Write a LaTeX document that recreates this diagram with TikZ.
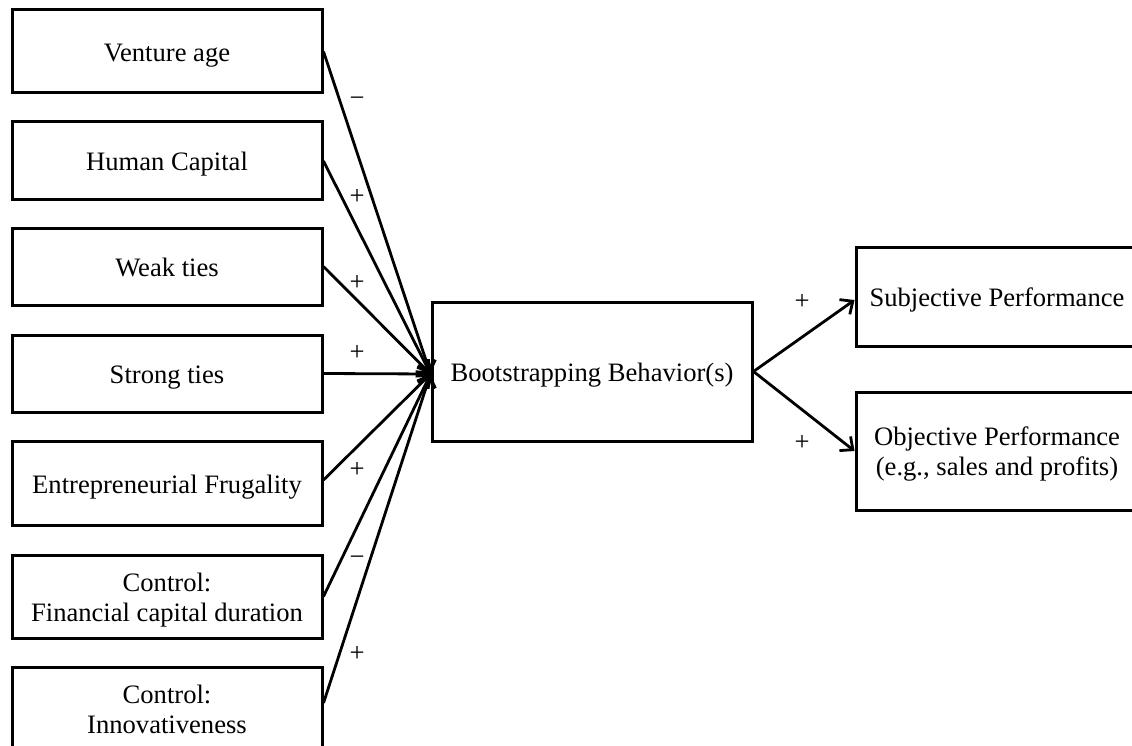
\documentclass[tikz,border=0pt]{standalone}
\usepackage{fontspec}
\setmainfont{Liberation Serif}
\usetikzlibrary{arrows.meta}
\begin{document}
\begin{tikzpicture}[x=1pt,y=-1pt,
  box/.style={draw, line width=3pt, inner sep=0pt, align=center,
              font=\fontsize{26.6}{30}\selectfont},
  oneline/.style={text height=26pt, text depth=6pt},
  twoline/.style={text height=55pt, text depth=6pt},
  lbox/.style={box, minimum width=310pt},
  conn/.style={line width=2.8pt, -{Straight Barb[length=10pt,width=18pt]}},
  sign/.style={inner sep=0pt, font=\fontsize{26.6}{30}\selectfont}]
\useasboundingbox (0,0) rectangle (1132,746);
\clip (0,0) rectangle (1132,746);

% antecedents
\node[lbox, oneline, minimum height=83pt] (va) at (167,51.5) {Venture age};
\node[lbox, oneline, minimum height=78pt] (hc) at (167,161) {Human Capital};
\node[lbox, oneline, minimum height=77pt] (wt) at (167,266.5) {Weak ties};
\node[lbox, oneline, minimum height=77pt] (st) at (167,373.5) {Strong ties};
\node[lbox, oneline, minimum height=84pt] (ef) at (167,483) {Entrepreneurial Frugality};
\node[lbox, twoline, minimum height=83pt] (fc) at (167,596.5) {Control:\\Financial capital duration};
\node[lbox, twoline, minimum height=84pt] (in) at (167,709) {Control:\\Innovativeness};

% mediator
\node[box, oneline, minimum width=320pt, minimum height=139pt] (bb) at (592,371.5) {Bootstrapping Behavior(s)};

% outcomes
\node[box, oneline, minimum width=282pt, minimum height=99pt] (sp) at (997,296.5) {Subjective Performance};
\node[box, twoline, minimum width=282pt, minimum height=118pt] (op) at (997,451) {Objective Performance\\(e.g., sales and profits)};

% connectors
\coordinate (hub) at ([yshift=-2.5pt]bb.west);
\draw[conn] (va.east) -- (hub);
\draw[conn] (hc.east) -- (hub);
\draw[conn] (wt.east) -- (hub);
\draw[conn] (st.east) -- (hub);
\draw[conn] ([yshift=3pt]ef.east) -- (hub);
\draw[conn] (fc.east) -- (hub);
\draw[conn] ([yshift=6pt]in.east) -- (hub);
\draw[conn] (bb.east) -- ([yshift=-3.5pt]sp.west);
\draw[conn] (bb.east) -- (op.west);

% signs
\node[sign] (s1) at (357,102) {−};
\node[sign] (s2) at (357,197) {+};
\node[sign] (s3) at (357,283) {+};
\node[sign] (s4) at (357,353) {+};
\node[sign] (s5) at (357,470) {+};
\node[sign] (s6) at (357,561) {−};
\node[sign] (s7) at (357,654) {+};
\node[sign] (s8) at (802,302) {+};
\node[sign] (s9) at (802,443) {+};
\end{tikzpicture}
\end{document}
